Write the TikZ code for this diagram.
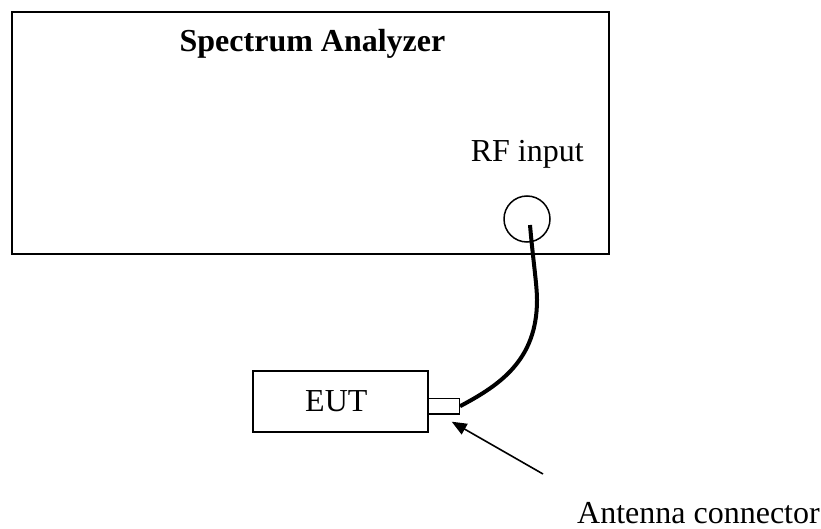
\documentclass[tikz,border=0pt]{standalone}
\usepackage{fontspec}
\setmainfont{Liberation Serif}
\usetikzlibrary{arrows.meta}
\begin{document}
\begin{tikzpicture}[x=1pt,y=-1pt,
  box/.style={draw,line width=1.8pt,inner sep=0pt},
  lbl/.style={font=\fontsize{32}{38}\selectfont, inner sep=0pt, anchor=base},
  cable/.style={line width=4pt},
  pointer/.style={line width=1.6pt,-{Triangle[length=15pt,width=12pt]}}
]
\useasboundingbox (0,0) rectangle (821,529);
% spectrum analyzer
\node[box, minimum width=597pt, minimum height=242pt, anchor=north west] (sa) at (11,11) {};
\node[lbl, font=\fontsize{32}{38}\selectfont\bfseries] (title) at (312.5,51.7) {Spectrum Analyzer};
\node[lbl] (rflbl) at (527.3,161.7) {RF input};
\node[draw, circle, line width=1.5pt, minimum size=46pt, inner sep=0pt] (rf) at (527,219) {};
% EUT
\node[box, minimum width=175pt, minimum height=61pt] (eut) at (340.8,401.2) {};
\node[lbl] (eutlbl) at (336.3,411.7) {EUT};
\node[box, line width=1.5pt, minimum width=31pt, minimum height=15.7pt] (conn) at (443.8,406.2) {};
% cable
\coordinate (cabtop) at (530,225);
\draw[cable] (cabtop) .. controls (533,260) and (537,285) .. (537,300)
  .. controls (537,360) and (500,385) .. (conn.east);
% pointer
\coordinate (arrtail) at (543,474);
\coordinate (arrtip) at (451.7,421.7);
\draw[pointer] (arrtail) -- (arrtip);
\node[lbl, anchor=base west] (antlbl) at (577,523) {Antenna connector};
\end{tikzpicture}
\end{document}
